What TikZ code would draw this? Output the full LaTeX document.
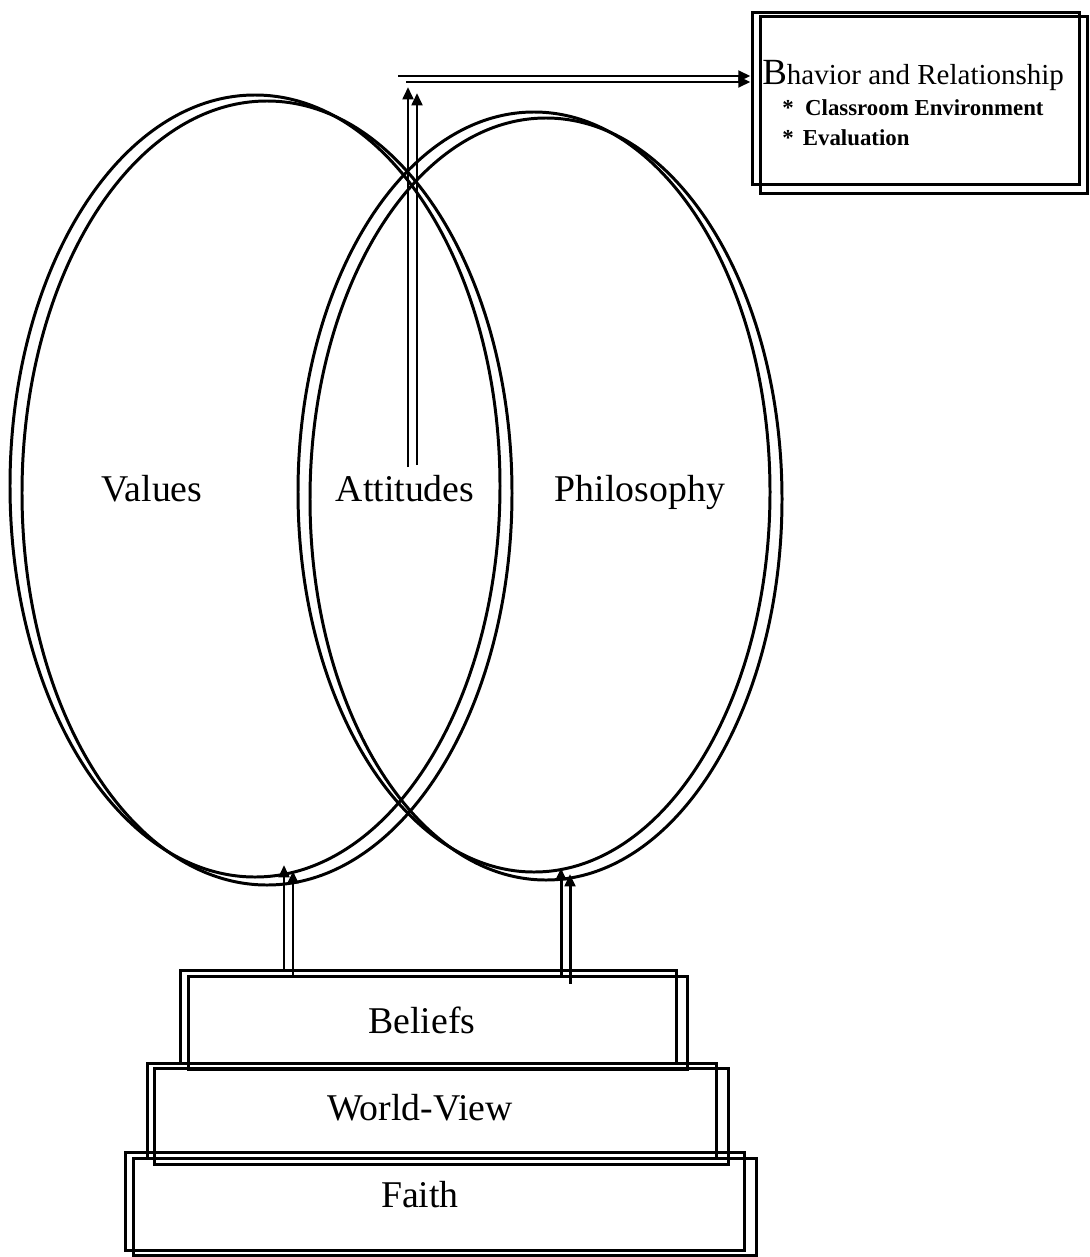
\documentclass[tikz,border=0pt]{standalone}
\usepackage{fontspec}
\setmainfont{Liberation Serif}
\usetikzlibrary{positioning,arrows.meta}

\begin{document}
\begin{tikzpicture}[x=0.02cm,y=-0.02cm,
ink/.style={line width=1.7pt},
arr/.style={ink,-{Triangle[length=7pt,width=6pt]}},
word/.style={font=\fontsize{21.5}{24}\selectfont,inner sep=0pt,anchor=base},
slab/.style={ink,draw,inner sep=0pt},
item/.style={font=\bfseries\fontsize{13}{14}\selectfont,inner sep=0pt,anchor=base west}]
\useasboundingbox (0,0) rectangle (1089,1257);

% the two ovals, each drawn twice
\draw[ink] (255,486) ellipse (245 and 391);
\draw[ink] (267,493) ellipse (245 and 392);
\draw[ink] (534,492) ellipse (236 and 380);
\draw[ink] (546,499) ellipse (236 and 381);

\node[word] (val) at (152,501) {Values};
\node[word] (att) at (405,501) {Attitudes};
\node[word] (phil) at (640,501) {Philosophy};

% box top right
\node[ink,draw,minimum width=6.56cm,minimum height=3.46cm,inner sep=0pt] (beh) at (916,98.5) {};
\draw[ink] ([shift={(10,6)}]beh.north west) rectangle ([shift={(6,7)}]beh.south east);
\node[inner sep=0pt,anchor=base west,font=\fontsize{16.5}{18}\selectfont] (ttl) at (762,85)
    {{\fontsize{21}{18}\selectfont B}havior and Relationship};
\node[item] (env) at (782,115) {*\hspace{0.5em}Classroom Environment};
\node[item] (evl) at (782,145) {*\hspace{0.4em}Evaluation};

% the stack
\node[slab,minimum width=9.94cm,minimum height=1.86cm] (bel) at (428.5,1016.5) {};
\draw[ink] ([shift={(10,8)}]bel.north west) rectangle ([shift={(9,5)}]bel.south east);
\node[slab,minimum width=11.4cm,minimum height=1.9cm] (wv) at (432,1110.5) {};
\draw[ink] ([shift={(9,7)}]wv.north west) rectangle ([shift={(10,5)}]wv.south east);
\node[slab,minimum width=12.4cm,minimum height=1.96cm] (fai) at (435,1201) {};
\draw[ink] ([shift={(10,8)}]fai.north west) rectangle ([shift={(10,4)}]fai.south east);
\node[word] (belt) at (422,1033) {Beliefs};
\node[word] (wvt) at (420,1120) {World-View};
\node[word] (fait) at (420,1207) {Faith};

% arrows
\coordinate (vA) at (408,87);
\coordinate (vB) at (417,93);
\draw[arr] ([yshift=34*0.02cm]att.base -| vA) -- (vA);
\draw[arr] ([yshift=36*0.02cm]att.base -| vB) -- (vB);
\coordinate (hA) at (398,76);
\coordinate (hB) at (406,82);
\draw[arr] (hA) -- (hA -| beh.west);
\draw[arr] (hB) -- (hB -| beh.west);

\coordinate (lA) at (284,865);
\coordinate (lB) at (293,871);
\coordinate (rA) at (561,868);
\coordinate (rB) at (570,874);
\draw[arr] (bel.north -| lA) -- (lA);
\draw[arr] ([yshift=-8*0.02cm]bel.north -| lB) -- (lB);
\draw[arr] ([yshift=-8*0.02cm]bel.north -| rA) -- (rA);
\draw[arr] ([yshift=-15*0.02cm]bel.north -| rB) -- (rB);
\end{tikzpicture}
\end{document}
